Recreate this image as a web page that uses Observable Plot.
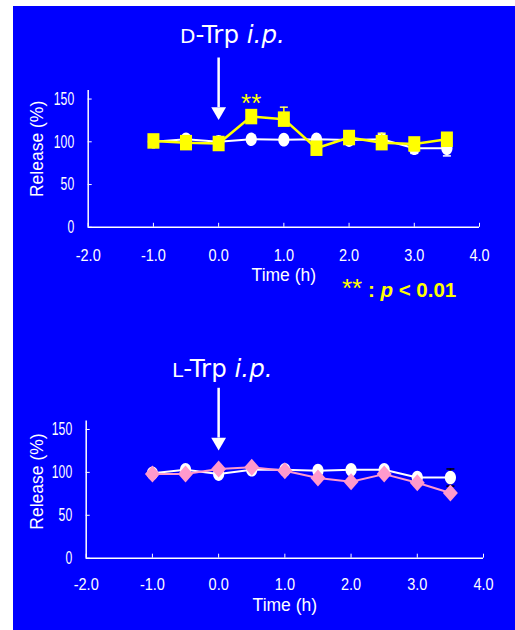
<!DOCTYPE html>
<html><head><meta charset="utf-8">
<script src="https://cdn.jsdelivr.net/npm/d3@7"></script>
<script src="https://cdn.jsdelivr.net/npm/@observablehq/plot@0.6"></script>
<style>
html,body{margin:0;padding:0;background:#fff;}
#page{position:relative;width:515px;height:630px;overflow:hidden;}
#panel{position:absolute;left:13px;top:6px;width:502px;height:624px;background:#0000ff;}
.chart{position:absolute;left:0;}
#overlay{position:absolute;left:0;top:0;}
</style></head><body>
<div id="page"><div id="panel"></div><div id="top" class="chart" style="top:0px"></div><div id="bottom" class="chart" style="top:320px"></div><svg id="overlay" width="515" height="630"></svg></div>
<script>
// ---- data ----
const time = [-1, -0.5, 0, 0.5, 1, 1.5, 2, 2.5, 3, 3.5];
const xTicks = [-2, -1, 0, 1, 2, 3, 4];
const yTicks = [0, 50, 100, 150];
// D-Trp chart
const dTrp     = [101, 99, 98, 129.5, 126.5, 92.5, 105, 99, 97.5, 103];
const dTrpErr  = [0, 0, 0, 0, 14, 0, 0, 11, 0, 0];      // drawn upward
const dCtrl    = [100, 103, 100, 103, 102.5, 103, 102, 103, 92.5, 92.5];
const dCtrlErr = [0, 0, 0, 0, 0, 0, 0, 0, 6, 9];        // drawn downward
// L-Trp chart
const lTrp     = [98, 98, 104, 106, 102, 93.5, 89, 98, 88, 76];
const lCtrl    = [99, 103, 98, 103, 103, 102, 103, 103, 94, 94];
const lCtrlErr = [0, 0, 0, 0, 0, 0, 0, 0, 0, 10];       // drawn both ways
// annotations
const injection = [0];
const sigTime = [0.5];
const sigLabel = ["**"];
const xLabel = "Time (h)";
const yLabel = "Release (%)";

const rowsD = time.map((t, i) => ({t, trp: dTrp[i], trpErr: dTrpErr[i], ctrl: dCtrl[i], ctrlErr: dCtrlErr[i]}));
const rowsL = time.map((t, i) => ({t, trp: lTrp[i], ctrl: lCtrl[i], ctrlErr: lCtrlErr[i]}));
const sigRows = sigTime.map((t, i) => ({t, v: dTrp[time.indexOf(t)], label: sigLabel[i]}));

// ---- symbols ----
const rectSym = {draw(c){ c.rect(-6, -7.75, 12, 15.5); }};
const ellSym = {draw(c){ const rx = 5.6, ry = 6.8, k = 0.5523;
  c.moveTo(rx, 0); c.bezierCurveTo(rx, ry*k, rx*k, ry, 0, ry); c.bezierCurveTo(-rx*k, ry, -rx, ry*k, -rx, 0);
  c.bezierCurveTo(-rx, -ry*k, -rx*k, -ry, 0, -ry); c.bezierCurveTo(rx*k, -ry, rx, -ry*k, rx, 0); c.closePath(); }};
const diaSym = {draw(c){ c.moveTo(0, -8.5); c.lineTo(7.5, 0); c.lineTo(0, 8.5); c.lineTo(-7.5, 0); c.closePath(); }};
const capSym = {draw(c){ c.moveTo(-4, 0); c.lineTo(4, 0); }};

const labelFont = "'Liberation Sans',Arial,sans-serif";

function frameMarks(cfg){
  return [
    Plot.ruleY([0], {stroke: "white", strokeWidth: 1.5}),
    Plot.ruleX([-2], {stroke: "white", strokeWidth: 1.5}),
    Plot.axisX(xTicks, {anchor: "bottom", tickSize: 4, dy: -4, fill: "none", stroke: "white", label: null}),
    Plot.axisX(xTicks, {anchor: "bottom", tickSize: 0, tickPadding: cfg.xPad, tickFormat: d => d.toFixed(1), fill: "white", fontSize: 16.5, label: null}),
    Plot.axisY(yTicks, {anchor: "left", tickSize: 4, dx: 4, fill: "none", stroke: "white", label: null}),
    Plot.axisY(yTicks, {anchor: "left", tickSize: 0, tickPadding: 14, fill: "white", fontSize: 18.5, label: null}),
    Plot.text([xLabel], {frameAnchor: "bottom", lineAnchor: "middle", textAnchor: "middle", text: d => d, dy: cfg.timeDy, fill: "white", fontSize: 17.5}),
    Plot.text([yLabel], {frameAnchor: "left", lineAnchor: "middle", textAnchor: "middle", text: d => d, rotate: -90, dx: cfg.relDx, dy: cfg.relDy, fill: "white", fontSize: 17.5}),
    Plot.ruleX(injection, {x: d => d, y1: 140, y2: 198, stroke: "white", strokeWidth: 2.5}),
    Plot.dot(injection, {x: d => d, y: 135.5, symbol: "triangle", rotate: 180, r: 5.5, fill: "white", stroke: "none"})
  ];
}

function plotOpts(cfg, marks){
  return {
    width: 515, height: 310,
    marginLeft: cfg.ml, marginRight: cfg.mr, marginTop: cfg.mt, marginBottom: cfg.mb,
    x: {domain: [-2, 4]},
    y: {domain: [0, 160]},
    style: {background: "transparent", color: "white", fontFamily: labelFont, fontSize: "17px", overflow: "visible"},
    marks: [...frameMarks(cfg), ...marks]
  };
}

// condense tick labels horizontally (reference uses a narrow face)
function condense(svg){
  const s = d3.select(svg);
  s.selectAll('g[aria-label="y-axis tick label"] text').each(function(){
    const w = this.getComputedTextLength();
    this.setAttribute("textLength", w * 0.66); this.setAttribute("lengthAdjust", "spacingAndGlyphs");
  });
  s.selectAll('g[aria-label="x-axis tick label"] text').each(function(){
    const w = this.getComputedTextLength();
    this.setAttribute("textLength", w * 0.88); this.setAttribute("lengthAdjust", "spacingAndGlyphs");
  });
}

// ---- top chart (D-Trp) ----
const cfgTop = {ml: 87.7, mr: 36, mt: 90, mb: 83.2, xPad: 21.5, timeDy: 48, relDx: -51, relDy: -10};
const errCtrlD = rowsD.filter(d => d.ctrlErr > 0);
const errTrpD = rowsD.filter(d => d.trpErr > 0);
const topPlot = Plot.plot(plotOpts(cfgTop, [
  Plot.line(rowsD, {x: "t", y: "ctrl", stroke: "white", strokeWidth: 2}),
  Plot.ruleX(errCtrlD, {x: "t", y1: "ctrl", y2: d => d.ctrl - d.ctrlErr, stroke: "white", strokeWidth: 1.5}),
  Plot.dot(errCtrlD, {x: "t", y: d => d.ctrl - d.ctrlErr, symbol: capSym, stroke: "white", strokeWidth: 1.5, fill: "none"}),
  Plot.dot(rowsD, {x: "t", y: "ctrl", symbol: ellSym, fill: "white", stroke: "none"}),
  Plot.line(rowsD, {x: "t", y: "trp", stroke: "#ffff00", strokeWidth: 2.5}),
  Plot.ruleX(errTrpD, {x: "t", y1: "trp", y2: d => d.trp + d.trpErr, stroke: "#ffff00", strokeWidth: 1.5}),
  Plot.dot(errTrpD, {x: "t", y: d => d.trp + d.trpErr, symbol: capSym, stroke: "#ffff66", strokeWidth: 1.5, fill: "none"}),
  Plot.dot(rowsD, {x: "t", y: "trp", symbol: rectSym, fill: "#ffff00", stroke: "none"}),
  Plot.text(sigRows, {x: "t", y: "v", text: "label", dy: -12.5, fill: "#ffff00", fontSize: 26})
]));
document.getElementById("top").appendChild(topPlot);
condense(topPlot);

// ---- bottom chart (L-Trp) ----
const cfgBot = {ml: 85.7, mr: 32, mt: 100.4, mb: 72.3, xPad: 20.3, timeDy: 47.6, relDx: -49, relDy: -8};
const errCtrlL = rowsL.filter(d => d.ctrlErr > 0);
const botPlot = Plot.plot(plotOpts(cfgBot, [
  Plot.ruleX(errCtrlL, {x: "t", y1: d => d.ctrl - d.ctrlErr, y2: d => d.ctrl + d.ctrlErr, stroke: "black", strokeWidth: 1.5}),
  Plot.dot(errCtrlL, {x: "t", y: d => d.ctrl - d.ctrlErr, symbol: capSym, stroke: "black", strokeWidth: 1.5, fill: "none"}),
  Plot.dot(errCtrlL, {x: "t", y: d => d.ctrl + d.ctrlErr, symbol: capSym, stroke: "black", strokeWidth: 1.5, fill: "none"}),
  Plot.line(rowsL, {x: "t", y: "ctrl", stroke: "white", strokeWidth: 2}),
  Plot.dot(rowsL, {x: "t", y: "ctrl", symbol: ellSym, fill: "white", stroke: "none"}),
  Plot.line(rowsL, {x: "t", y: "trp", stroke: "#ff99cc", strokeWidth: 2}),
  Plot.dot(rowsL, {x: "t", y: "trp", symbol: diaSym, fill: "#ff99cc", stroke: "none"})
]));
document.getElementById("bottom").appendChild(botPlot);
condense(botPlot);

// ---- titles & note ----
const ov = d3.select("#overlay");
function title(x, y, letter){
  const t = ov.append("text").attr("x", x).attr("y", y).attr("fill", "white")
    .attr("font-family", "'DejaVu Sans',Verdana,sans-serif").attr("font-size", 24.5);
  t.append("tspan").attr("font-size", 20).text(letter);
  t.append("tspan").text("-Trp ");
  t.append("tspan").attr("font-style", "italic").text("i.p.");
}
title(180, 43.3, "D");
title(172, 376.7, "L");
const note = ov.append("text").attr("x", 342).attr("y", 296.7).attr("fill", "#ffff00")
  .attr("font-family", labelFont);
note.append("tspan").attr("font-size", 26).text("**");
note.append("tspan").attr("font-size", 20.5).attr("font-weight", "bold").text(" : ");
note.append("tspan").attr("font-size", 20.5).attr("font-weight", "bold").attr("font-style", "italic").text("p");
note.append("tspan").attr("font-size", 20.5).attr("font-weight", "bold").text(" < 0.01");
</script>
</body></html>
